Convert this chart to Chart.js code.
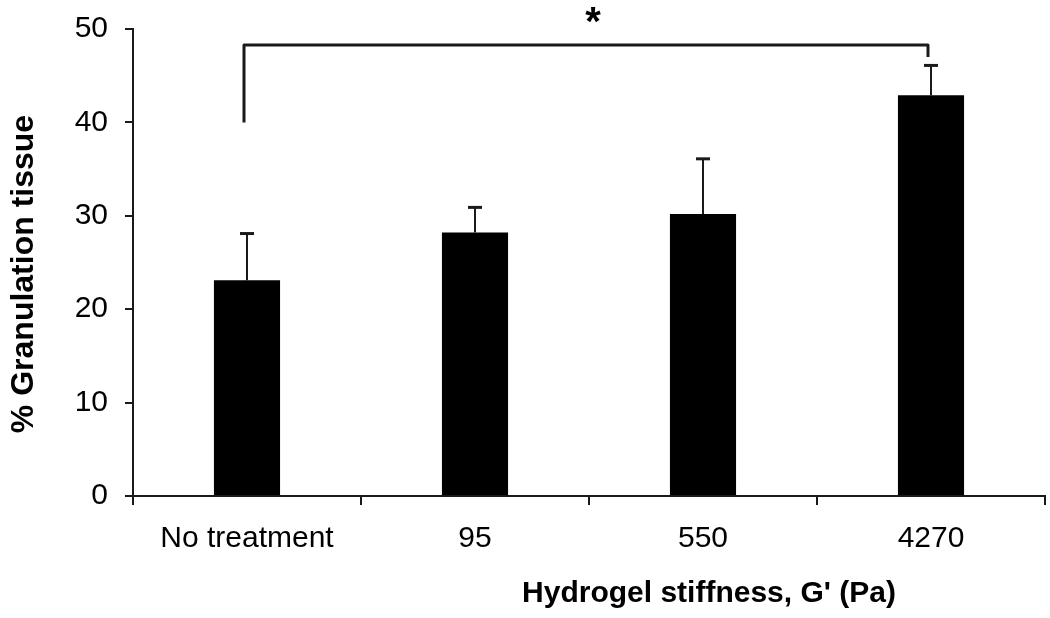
<!DOCTYPE html>
<html>
<head>
<meta charset="utf-8">
<script src="https://cdn.jsdelivr.net/npm/chart.js@4/dist/chart.umd.min.js"></script>
<style>
  html, body { margin: 0; padding: 0; background: #fff; }
  #wrap { width: 1050px; height: 618px; }
</style>
</head>
<body>
<div id="wrap"><canvas id="c" width="1050" height="618"></canvas></div>
<script>
// ---- data ----
const categories = ['No treatment', '95', '550', '4270'];
const granulation = [23.1, 28.2, 30.2, 42.9];
const errorUp = [5.0, 2.7, 5.9, 3.2];
const yTicks = [0, 10, 20, 30, 40, 50];
const xTitle = "Hydrogel stiffness, G' (Pa)";
const yTitle = '% Granulation tissue';
const sigFrom = 0, sigTo = 3;           // categories compared
const sigLevels = [40, 48.3, 47.0];     // left leg start, bracket top, right leg end
const sigMark = '*';

const FONT = "'Liberation Sans', Arial, sans-serif";
const INK = '#1a1a1a';

const annotations = {
  id: 'annotations',
  afterDatasetsDraw(chart) {
    const { ctx, scales: { x, y } } = chart;
    const meta = chart.getDatasetMeta(0);
    ctx.save();
    ctx.strokeStyle = INK;
    meta.data.forEach((bar, i) => {
      const cx = bar.x;
      const top = y.getPixelForValue(granulation[i] + errorUp[i]);
      ctx.lineWidth = 2;
      ctx.beginPath(); ctx.moveTo(cx, bar.y); ctx.lineTo(cx, top); ctx.stroke();
      ctx.lineWidth = 3;
      ctx.beginPath(); ctx.moveTo(cx - 7, top); ctx.lineTo(cx + 7, top); ctx.stroke();
    });
    // significance bracket
    const lx = x.getPixelForValue(sigFrom) - 3;
    const rx = x.getPixelForValue(sigTo) - 3;
    ctx.lineWidth = 3;
    ctx.lineJoin = 'round';
    ctx.beginPath();
    ctx.moveTo(lx, y.getPixelForValue(sigLevels[0]));
    ctx.lineTo(lx, y.getPixelForValue(sigLevels[1]));
    ctx.lineTo(rx, y.getPixelForValue(sigLevels[1]));
    ctx.lineTo(rx, y.getPixelForValue(sigLevels[2]));
    ctx.stroke();
    // asterisk
    ctx.fillStyle = '#000';
    ctx.font = 'bold 40px ' + FONT;
    ctx.textAlign = 'center';
    ctx.textBaseline = 'alphabetic';
    ctx.fillText(sigMark, (x.left + x.right) / 2 + 4, 35);
    ctx.restore();
  },
  afterDraw(chart) {
    const { ctx } = chart;
    ctx.save();
    ctx.fillStyle = '#000';
    ctx.textAlign = 'center';
    ctx.textBaseline = 'alphabetic';
    ctx.font = 'bold 30px ' + FONT;
    ctx.fillText(xTitle, 709, 602);
    ctx.translate(33, 274);
    ctx.rotate(-Math.PI / 2);
    ctx.font = 'bold 32px ' + FONT;
    ctx.fillText(yTitle, 0, 0);
    ctx.restore();
  }
};

new Chart(document.getElementById('c'), {
  type: 'bar',
  data: {
    labels: categories,
    datasets: [{
      data: granulation,
      backgroundColor: '#000',
      borderWidth: 0,
      barPercentage: 0.29,
      categoryPercentage: 1.0
    }]
  },
  options: {
    responsive: false,
    animation: false,
    layout: { padding: { left: 0, right: 5, top: 29, bottom: 0 } },
    plugins: { legend: { display: false }, tooltip: { enabled: false } },
    scales: {
      x: {
        offset: true,
        grid: { display: true, offset: true, drawOnChartArea: false, drawTicks: true, tickLength: 9, color: INK, lineWidth: 2 },
        border: { display: true, color: INK, width: 2 },
        ticks: { color: '#000', font: { family: FONT, size: 30 }, padding: 16, maxRotation: 0 },
        afterFit(s) { s.height = 122; s.paddingLeft = 0; s.paddingRight = 0; }
      },
      y: {
        min: 0, max: 50,
        afterBuildTicks(s) { s.ticks = yTicks.map(v => ({ value: v })); },
        grid: { display: true, drawOnChartArea: false, drawTicks: true, tickLength: 8, color: INK, lineWidth: 2 },
        border: { display: true, color: INK, width: 2 },
        ticks: { color: '#000', font: { family: FONT, size: 30 }, padding: 17 },
        afterFit(s) { s.width = 133; s.paddingTop = 0; s.paddingBottom = 0; }
      }
    }
  },
  plugins: [annotations]
});
</script>
</body>
</html>
